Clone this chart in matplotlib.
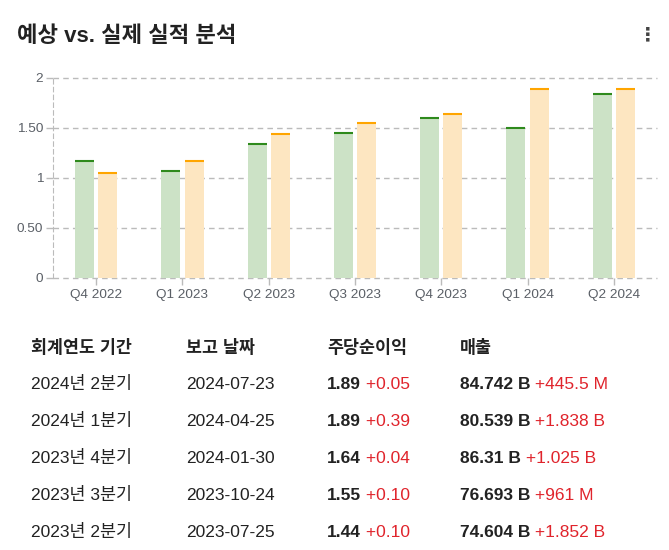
import matplotlib
matplotlib.use("Agg")
import matplotlib.pyplot as plt
import numpy as np

plt.rcParams['font.family'] = ['Liberation Sans', 'Noto Sans CJK KR', 'DejaVu Sans']

# 차트 데이터
quarters = ['Q4 2022', 'Q1 2023', 'Q2 2023', 'Q3 2023', 'Q4 2023', 'Q1 2024', 'Q2 2024']
estimates = [1.17, 1.07, 1.34, 1.45, 1.60, 1.50, 1.84]
actuals = [1.05, 1.17, 1.44, 1.55, 1.64, 1.89, 1.89]
ytick_vals = [0, 0.5, 1, 1.5, 2]
ytick_labels = ['0', '0.50', '1', '1.50', '2']

# 표 데이터
headers = ['회계연도 기간', '보고 날짜', '주당순이익', '매출']
periods = ['2024년 2분기', '2024년 1분기', '2023년 4분기', '2023년 3분기', '2023년 2분기']
report_dates = ['2024-07-23', '2024-04-25', '2024-01-30', '2023-10-24', '2023-07-25']
eps = ['1.89', '1.89', '1.64', '1.55', '1.44']
eps_diff = ['+0.05', '+0.39', '+0.04', '+0.10', '+0.10']
revenue = ['84.742 B', '80.539 B', '86.31 B', '76.693 B', '74.604 B']
revenue_diff = ['+445.5 M', '+1.838 B', '+1.025 B', '+961 M', '+1.852 B']

W, H = 669, 550
fig = plt.figure(figsize=(W / 100, H / 100), dpi=100)


def px(x, y):
    return x / W, 1 - y / H


# 제목
fig.text(*px(17, 42), '예상 vs. 실제 실적 분석', fontsize=16, fontweight='bold',
         color='#222222', va='baseline', ha='left')
fig.text(*px(648, 35), '⋮', fontsize=14, fontweight='bold', color='#444444',
         va='center', ha='center', family='DejaVu Sans')

# 막대 차트
ax = fig.add_axes([53 / W, 1 - 278 / H, 604 / W, 200 / H])
x = np.arange(len(quarters))
bw = 0.22
off = 0.135
ax.bar(x - off, estimates, width=bw, color='#cce2c6', zorder=2)
ax.bar(x + off, actuals, width=bw, color='#fde6c1', zorder=2)
ax.hlines(estimates, x - off - bw / 2, x - off + bw / 2, color='#2e8a1c', lw=1.5, zorder=3)
ax.hlines(actuals, x + off - bw / 2, x + off + bw / 2, color='#ffa500', lw=1.5, zorder=3)

ax.set_xlim(-0.5, len(quarters) - 0.5)
ax.set_ylim(0, 2)
ax.set_xticks(x)
ax.set_xticklabels(quarters)
ax.set_yticks(ytick_vals)
ax.set_yticklabels(ytick_labels)
ax.tick_params(axis='both', colors='#bbbbbb', labelcolor='#5a5f66', labelsize=9.7, length=5, width=1)
ax.tick_params(axis='x', pad=3)
ax.tick_params(axis='y', pad=2)
for s in ['top', 'right', 'bottom']:
    ax.spines[s].set_visible(False)
ax.spines['left'].set_linestyle((0, (4, 3)))
ax.spines['left'].set_color('#bbbbbb')
for v in ytick_vals:
    ax.axhline(v, color='#bbbbbb', lw=1, linestyle=(0, (4, 3)), zorder=1, clip_on=False)

# 표
col_x = [31, 186, 327, 460]
header_y = 347
row_y = [383, 420, 457, 494, 531]
fs = 12.5
dy = 6
for cx, h in zip(col_x, headers):
    fig.text(*px(cx, header_y + dy), h, fontsize=fs, fontweight='bold', color='#222222',
             va='baseline', ha='left')

for i, y in enumerate(row_y):
    yb = y + dy
    fig.text(*px(col_x[0], yb), periods[i], fontsize=fs, color='#222222', va='baseline')
    fig.text(*px(col_x[1], yb), report_dates[i], fontsize=fs, color='#222222', va='baseline')
    t = fig.text(*px(col_x[2], yb), eps[i], fontsize=fs, fontweight='bold', color='#222222',
                 va='baseline')
    fig.add_artist(plt.Annotation(' ' + eps_diff[i], xy=(1, 0), xycoords=t,
                                  fontsize=fs, color='#e0242c', va='bottom'))
    t = fig.text(*px(col_x[3], yb), revenue[i], fontsize=fs, fontweight='bold', color='#222222',
                 va='baseline')
    fig.add_artist(plt.Annotation(' ' + revenue_diff[i], xy=(1, 0), xycoords=t,
                                  fontsize=fs, color='#e0242c', va='bottom'))

fig.savefig('out.png', dpi=100)
